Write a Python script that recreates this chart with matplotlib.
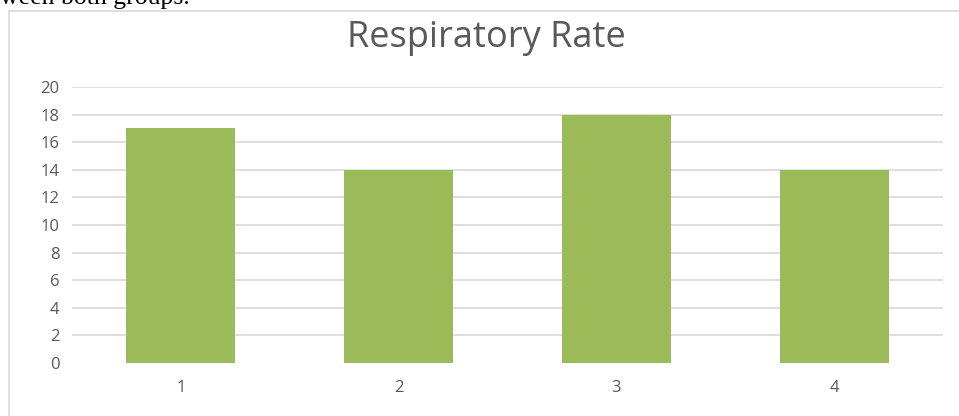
import matplotlib.pyplot as plt
from matplotlib.patches import Rectangle

categories = ["1", "2", "3", "4"]
rates = [17, 14, 18, 14]
y_ticks = [0, 2, 4, 6, 8, 10, 12, 14, 16, 18, 20]

W, H = 959, 416
fig = plt.figure(figsize=(W / 100, H / 100), dpi=100)

# chart frame (screenshot of a document, frame runs off right/bottom)
fig.patches.append(Rectangle((9 / W, -0.1), 1.2, 1.1 - 11 / H, transform=fig.transFigure,
                             fill=False, edgecolor="#D9D9D9", linewidth=1.2))

# cut-off line of document text above the chart
fig.text(0, 1 - 4 / H, "ween both groups.", family="Liberation Serif", fontsize=18.5,
         color="black", ha="left", va="baseline")

ax = fig.add_axes([72 / W, 53 / H, 871 / W, 276 / H])
x = list(range(len(categories)))
ax.bar(x, rates, width=0.5, color="#9BBB59", zorder=2)
ax.set_xlim(-0.5, 3.5)
ax.set_ylim(0, 20)
ax.set_yticks(y_ticks)
ax.set_xticks(x)
ax.set_xticklabels(categories)
for yv in y_ticks[1:]:
    ax.axhline(yv, color="#D9D9D9", linewidth=1.2, zorder=1)
for s in ax.spines.values():
    s.set_visible(False)
ax.tick_params(length=0, labelsize=12, labelcolor="#595959", pad=9)
ax.tick_params(axis="x", pad=12)
for lbl in ax.get_xticklabels() + ax.get_yticklabels():
    lbl.set_family("Open Sans")

fig.text(486 / W, 1 - 47 / H, "Respiratory Rate", family="Open Sans", fontsize=26,
         color="#595959", ha="center", va="baseline")

fig.savefig("out.png", dpi=100)
